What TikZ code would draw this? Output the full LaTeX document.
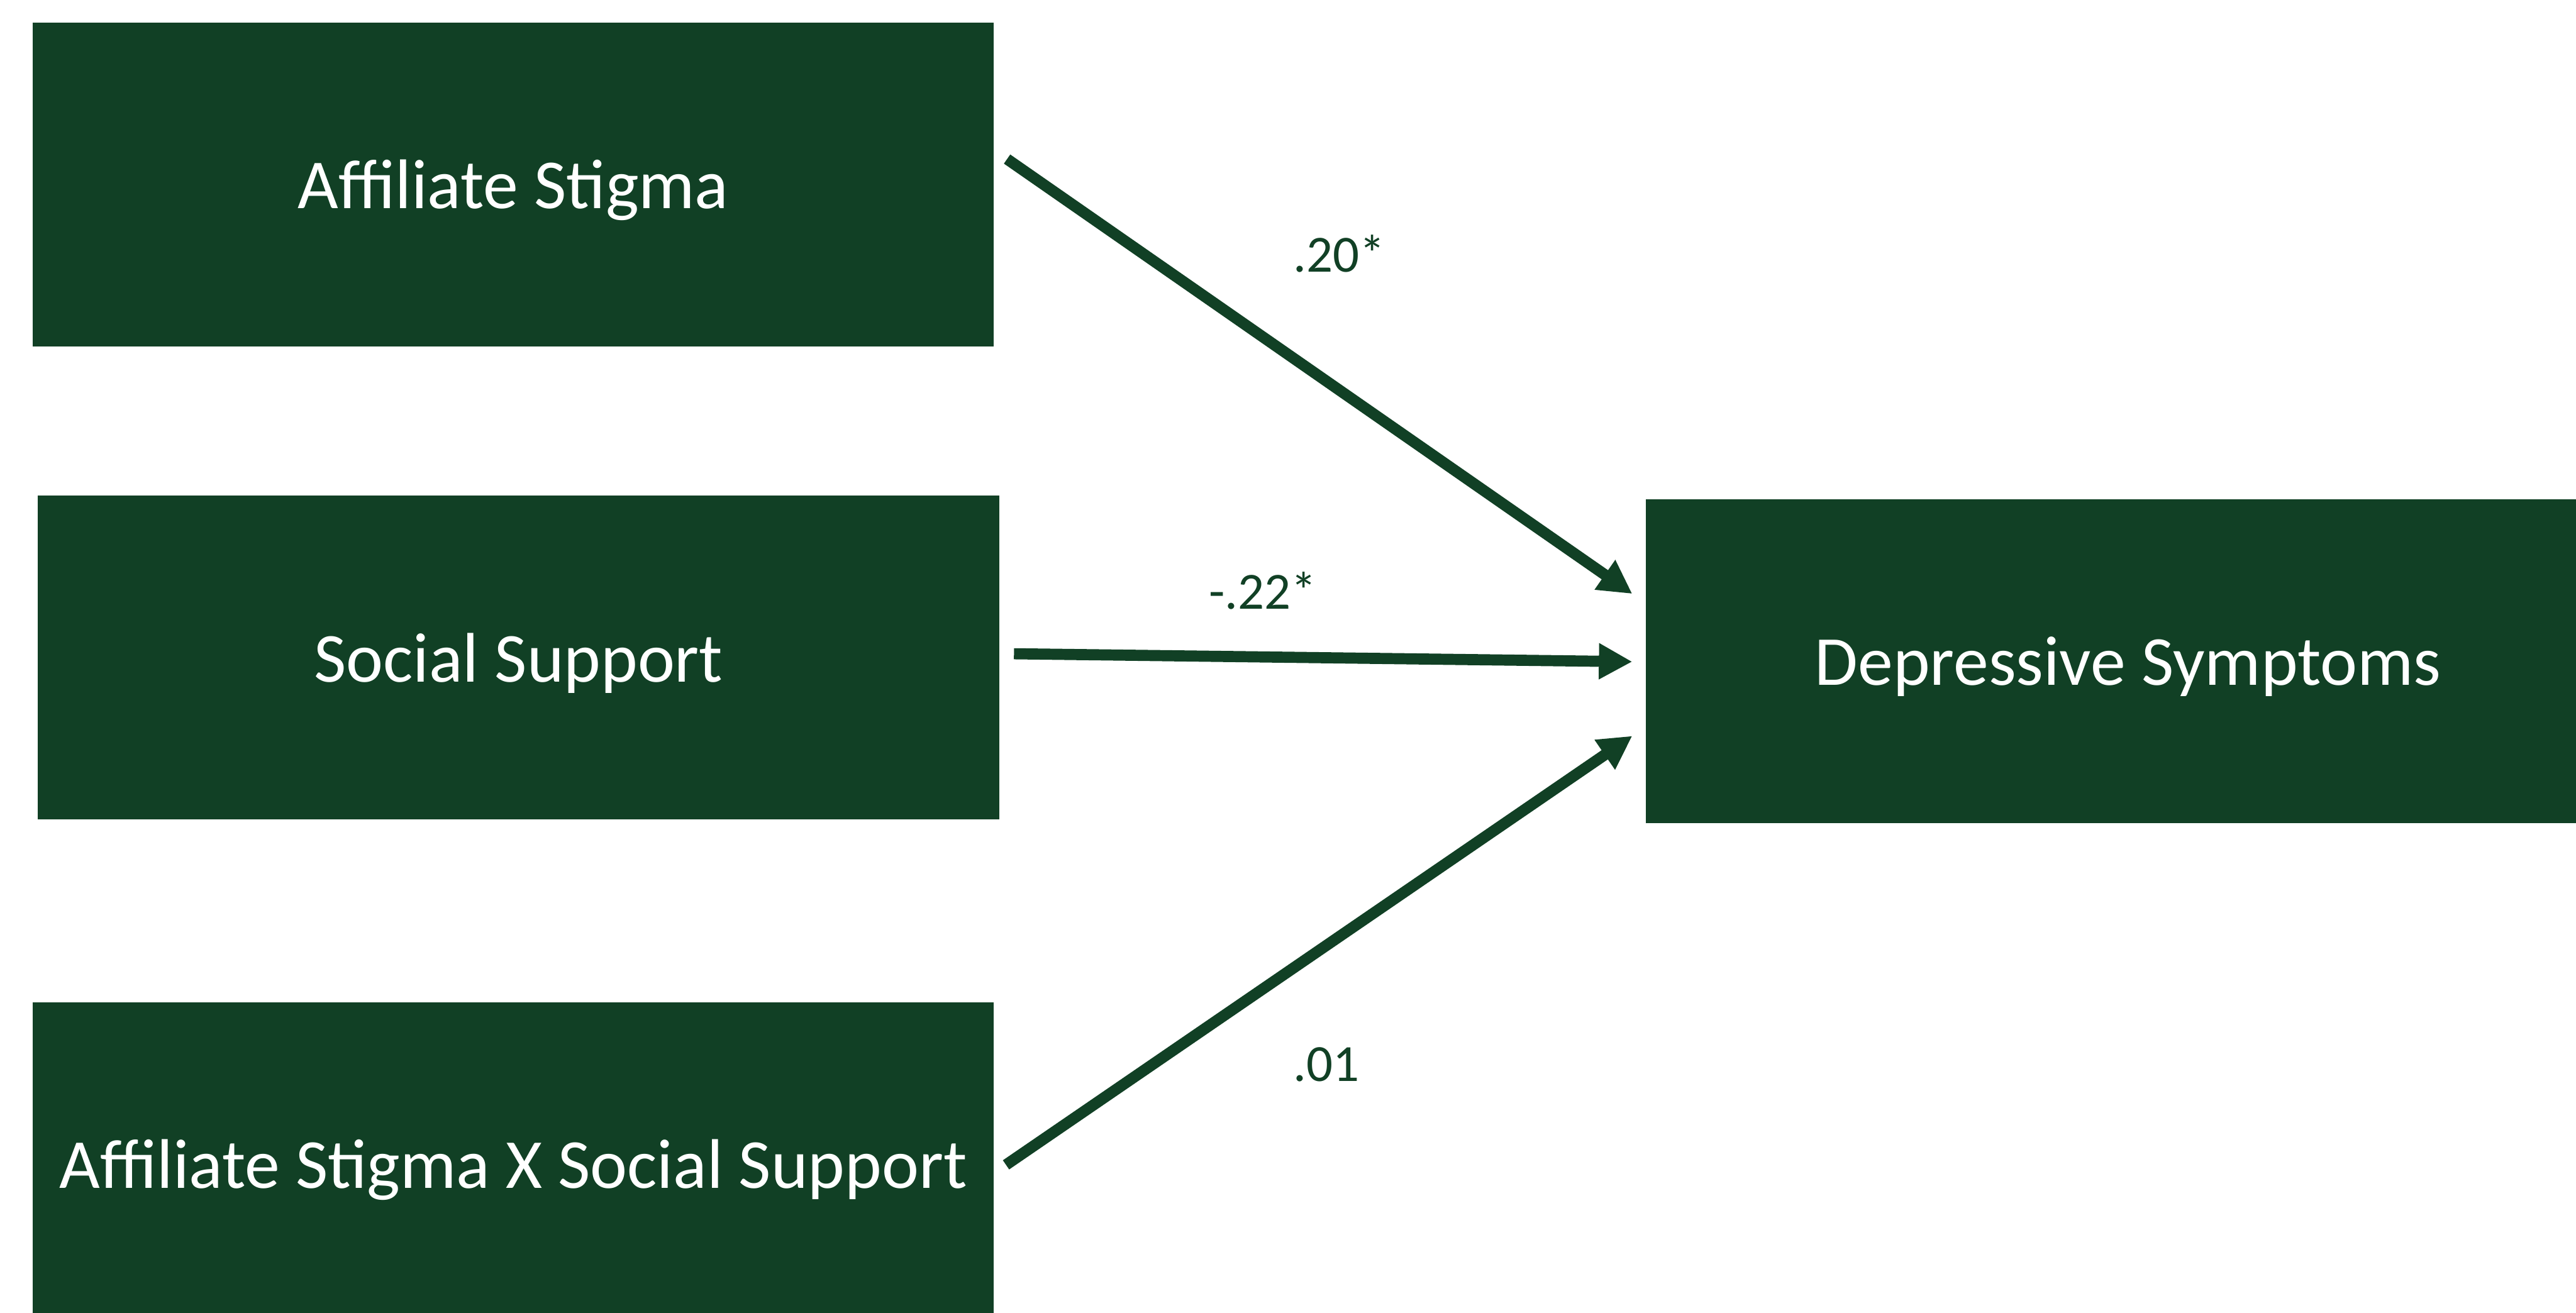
\documentclass[tikz,border=0pt]{standalone}
\usepackage{fontspec}
\setmainfont{Carlito}
\usetikzlibrary{arrows.meta, positioning}
\definecolor{darkgreen}{RGB}{17,64,37}

\begin{document}
\begin{tikzpicture}[
    box/.style={fill=darkgreen, text=white, minimum width=18.13cm, minimum height=6.1cm, inner sep=0pt, text height=28pt, text depth=2pt, font=\fontsize{37.7}{45}\selectfont},
    effect/.style={darkgreen, line width=0.21cm, -{Triangle[length=0.63cm, width=0.64cm]}},
    coef/.style={text=darkgreen, anchor=base, font=\fontsize{28}{34}\selectfont}]
    \clip (0,0) rectangle (48.58,-24.76);

    \node[box] (as) at (9.68, -3.48) {Affiliate Stigma};
    \node[box] (ss) at (9.78, -12.40) {Social Support};
    \node[box] (int) at (9.68, -21.95) {Affiliate Stigma X Social Support};
    \node[box, minimum width=18.18cm] (dep) at (40.13, -12.47) {Depressive Symptoms};

    \draw[effect] ([xshift=0.24cm, yshift=0.48cm]as.east) -- ([xshift=-0.25cm, yshift=1.27cm]dep.west);
    \draw[effect] ([xshift=0.27cm, yshift=0.07cm]ss.east) -- ([xshift=-0.25cm, yshift=-0.01cm]dep.west);
    \draw[effect] ([xshift=0.22cm, yshift=-0.02cm]int.east) -- ([xshift=-0.25cm, yshift=-1.41cm]dep.west);

    \node[coef] (c1) at (25.26, -5.13) {.20*};
    \node[coef] (c2) at (23.82, -11.49) {-.22*};
    \node[coef] (c3) at (25.01, -20.39) {.01};
\end{tikzpicture}
\end{document}
